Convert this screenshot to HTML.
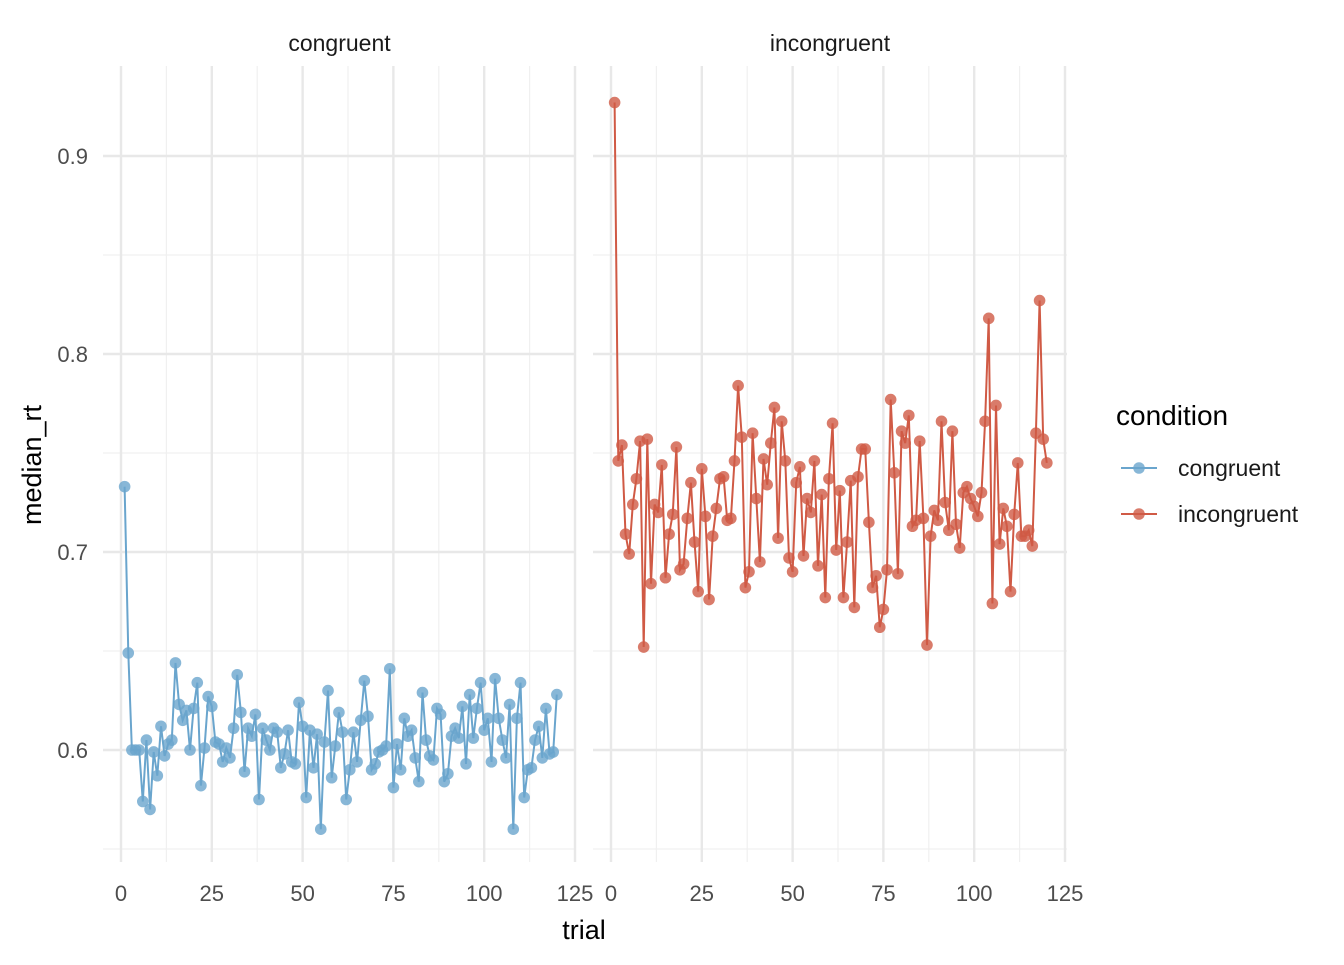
<!DOCTYPE html>
<html><head><meta charset="utf-8"><style>
html,body{margin:0;padding:0;background:#fff;}
svg text{font-family:"Liberation Sans",Arial,sans-serif;}
</style></head><body>
<svg id="chart" width="1344" height="960" viewBox="0 0 1344 960" xmlns="http://www.w3.org/2000/svg">
<g id="grid"></g>
<g id="marks"></g>
<g id="axes"></g>
<g>
<text x="1116" y="425" font-size="28" fill="#000">condition</text>
<g>
<line x1="1121" y1="468" x2="1157" y2="468" stroke="#6aa5cd" stroke-width="2"/>
<circle cx="1139" cy="468" r="5.8" fill="#6aa5cd" fill-opacity="0.8"/>
<text x="1178" y="476" font-size="23" fill="#1a1a1a">congruent</text></g>
<g>
<line x1="1121" y1="514" x2="1157" y2="514" stroke="#d05a45" stroke-width="2"/>
<circle cx="1139" cy="514" r="5.8" fill="#d05a45" fill-opacity="0.8"/>
<text x="1178" y="522" font-size="23" fill="#1a1a1a">incongruent</text></g>
</g>
<text x="584" y="939" font-size="27" text-anchor="middle" fill="#000">trial</text>
<text transform="translate(41,465) rotate(-90)" font-size="27" text-anchor="middle" fill="#000">median_rt</text>
</svg>
<script>
const congruent = [0.733,0.649,0.600,0.600,0.600,0.574,0.605,0.570,0.599,0.587,0.612,0.597,0.603,0.605,0.644,0.623,0.615,0.620,0.600,0.621,0.634,0.582,0.601,0.627,0.622,0.604,0.603,0.594,0.601,0.596,0.611,0.638,0.619,0.589,0.611,0.607,0.618,0.575,0.611,0.605,0.600,0.611,0.609,0.591,0.598,0.610,0.594,0.593,0.624,0.612,0.576,0.610,0.591,0.608,0.560,0.604,0.630,0.586,0.602,0.619,0.609,0.575,0.590,0.609,0.594,0.615,0.635,0.617,0.590,0.593,0.599,0.600,0.602,0.641,0.581,0.603,0.590,0.616,0.607,0.610,0.596,0.584,0.629,0.605,0.597,0.595,0.621,0.618,0.584,0.588,0.607,0.611,0.606,0.622,0.593,0.628,0.606,0.621,0.634,0.610,0.616,0.594,0.636,0.616,0.605,0.596,0.623,0.560,0.616,0.634,0.576,0.590,0.591,0.605,0.612,0.596,0.621,0.598,0.599,0.628];
const incongruent = [0.927,0.746,0.754,0.709,0.699,0.724,0.737,0.756,0.652,0.757,0.684,0.724,0.720,0.744,0.687,0.709,0.719,0.753,0.691,0.694,0.717,0.735,0.705,0.680,0.742,0.718,0.676,0.708,0.722,0.737,0.738,0.716,0.717,0.746,0.784,0.758,0.682,0.690,0.760,0.727,0.695,0.747,0.734,0.755,0.773,0.707,0.766,0.746,0.697,0.690,0.735,0.743,0.698,0.727,0.720,0.746,0.693,0.729,0.677,0.737,0.765,0.701,0.731,0.677,0.705,0.736,0.672,0.738,0.752,0.752,0.715,0.682,0.688,0.662,0.671,0.691,0.777,0.740,0.689,0.761,0.755,0.769,0.713,0.716,0.756,0.717,0.653,0.708,0.721,0.716,0.766,0.725,0.711,0.761,0.714,0.702,0.730,0.733,0.727,0.723,0.718,0.730,0.766,0.818,0.674,0.774,0.704,0.722,0.713,0.680,0.719,0.745,0.708,0.708,0.711,0.703,0.760,0.827,0.757,0.745];
const xTicks = [0,25,50,75,100,125];
const yTicks = [0.6,0.7,0.8,0.9];
const yMinor = [0.55,0.65,0.75,0.85];
const panelNames = ["congruent","incongruent"];

const NS="http://www.w3.org/2000/svg";
const panels=[{x0:121,left:103,right:576,series:congruent,color:"#6aa5cd"},{x0:611,left:593,right:1067,series:incongruent,color:"#d05a45"}];
const panelTop=66,panelBottom=862;
function yS(v){return 750-(v-0.6)*1980;}
function mk(tag,attrs,parent){const e=document.createElementNS(NS,tag);for(const k in attrs)e.setAttribute(k,attrs[k]);parent.appendChild(e);return e;}
const grid=document.getElementById('grid'),marks=document.getElementById('marks'),axes=document.getElementById('axes');
panels.forEach((p,pi)=>{
  const xS=t=>p.x0+t*3.632;
  for(let i=0;i<xTicks.length-1;i++){const m=(xTicks[i]+xTicks[i+1])/2;
    const l=mk('line',{x1:xS(m),x2:xS(m),y1:panelTop,y2:panelBottom,stroke:'#f0f0f0','stroke-width':1.2},grid);
    
    }
  yMinor.forEach(v=>{const l=mk('line',{x1:p.left,x2:p.right,y1:yS(v),y2:yS(v),stroke:'#f0f0f0','stroke-width':1.2},grid);
    
    });
  xTicks.forEach(t=>{const l=mk('line',{x1:xS(t),x2:xS(t),y1:panelTop,y2:panelBottom,stroke:'#e8e8e8','stroke-width':2.4},grid);
    
    
    const tx=mk('text',{x:xS(t),y:901,'font-size':22,'text-anchor':'middle',fill:'#4d4d4d'},axes);tx.textContent=t;
    
    });
  yTicks.forEach(v=>{const l=mk('line',{x1:p.left,x2:p.right,y1:yS(v),y2:yS(v),stroke:'#e8e8e8','stroke-width':2.4},grid);
    
    
    if(pi===0){const tx=mk('text',{x:88,y:yS(v)+8,'font-size':22,'text-anchor':'end',fill:'#4d4d4d'},axes);tx.textContent=v.toFixed(1);
    
    }});
  const st=mk('text',{x:(p.left+p.right)/2,y:51,'font-size':23,'text-anchor':'middle',fill:'#1a1a1a'},axes);st.textContent=panelNames[pi];
  
  
  const pts=p.series.map((v,i)=>xS(i+1).toFixed(1)+','+yS(v).toFixed(1)).join(' ');
  const pl=mk('polyline',{points:pts,fill:'none',stroke:p.color,'stroke-width':2},marks);
  
  
  p.series.forEach((v,i)=>{const c=mk('circle',{cx:xS(i+1),cy:yS(v),r:5.8,fill:p.color,'fill-opacity':0.8},marks);
    
    });
});
</script>
</body></html>
